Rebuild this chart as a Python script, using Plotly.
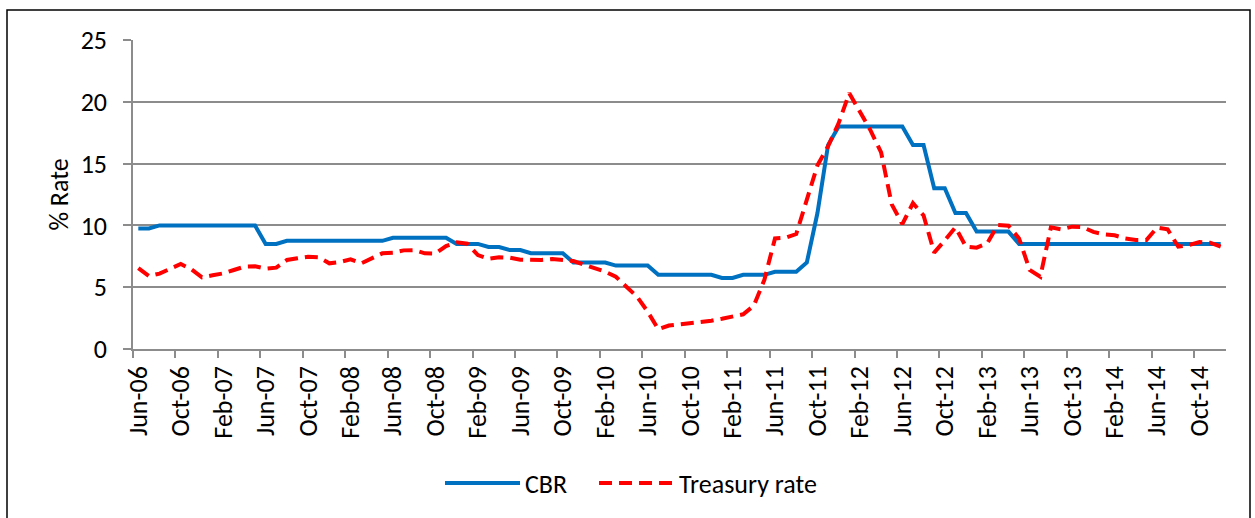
import plotly.graph_objects as go

month_names = ["Jan", "Feb", "Mar", "Apr", "May", "Jun", "Jul", "Aug", "Sep", "Oct", "Nov", "Dec"]
start_year, start_month = 2006, 6
n_months = 103
months = []
for k in range(n_months):
    m = (start_month - 1 + k) % 12
    y = start_year + (start_month - 1 + k) // 12
    months.append(f"{month_names[m]}-{y % 100:02d}")

cbr = [
    9.75, 9.75, 10, 10, 10, 10, 10, 10, 10, 10,
    10, 10, 8.5, 8.5, 8.75, 8.75, 8.75, 8.75, 8.75, 8.75,
    8.75, 8.75, 8.75, 8.75, 9.0, 9.0, 9.0, 9.0, 9.0, 9.0,
    8.5, 8.5, 8.5, 8.25, 8.25, 8.0, 8.0, 7.75, 7.75, 7.75,
    7.75, 7.0, 7.0, 7.0, 7.0, 6.75, 6.75, 6.75, 6.75, 6.0,
    6.0, 6.0, 6.0, 6.0, 6.0, 5.75, 5.75, 6.0, 6.0, 6.0,
    6.25, 6.25, 6.25, 7.0, 11.0, 16.5, 18, 18, 18, 18,
    18, 18, 18, 16.5, 16.5, 13, 13, 11, 11, 9.5,
    9.5, 9.5, 9.5, 8.5, 8.5, 8.5, 8.5, 8.5, 8.5, 8.5,
    8.5, 8.5, 8.5, 8.5, 8.5, 8.5, 8.5, 8.5, 8.5, 8.5,
    8.5, 8.5, 8.5,
]

treasury = [
    6.55, 5.9, 6.1, 6.47, 6.88, 6.45, 5.8, 5.96, 6.12, 6.39,
    6.66, 6.69, 6.5, 6.58, 7.2, 7.34, 7.47, 7.42, 6.93, 7.04,
    7.25, 6.93, 7.34, 7.74, 7.79, 7.98, 8.0, 7.74, 7.72, 8.33,
    8.63, 8.52, 7.6, 7.3, 7.42, 7.39, 7.23, 7.2, 7.2, 7.28,
    7.23, 7.12, 6.82, 6.58, 6.26, 5.85, 5.04, 4.23, 3.02, 1.6,
    1.9, 1.98, 2.08, 2.18, 2.29, 2.45, 2.62, 2.81, 3.5, 5.6,
    8.95, 9.0, 9.3, 12.1, 14.86, 16.4, 18.28, 20.69, 19.2, 17.69,
    15.9, 11.7, 10.1, 11.8, 10.8, 7.8, 8.79, 9.84, 8.28, 8.2,
    8.55, 10.03, 9.98, 8.95, 6.39, 5.85, 9.84, 9.68, 9.9, 9.85,
    9.47, 9.28, 9.2, 8.95, 8.82, 8.82, 9.82, 9.68, 8.28, 8.41,
    8.66, 8.6, 8.28,
]

FONT = "Carlito, Calibri, Lato, sans-serif"
FS = 26
GRID = "#8C8C8C"

fig = go.Figure()
fig.add_trace(go.Scatter(
    x=months, y=cbr, mode="lines", name="CBR",
    line=dict(color="#0070C0", width=4), legend="legend",
))
fig.add_trace(go.Scatter(
    x=months, y=treasury, mode="lines", name="Treasury rate",
    line=dict(color="#FF0000", width=4, dash="13px,7px"), legend="legend2",
))

W, H = 1255, 518
L, R, T, B = 133, 29, 40, 169
pw, ph = W - L - R, H - T - B

legend_style = dict(
    orientation="h", xanchor="left", y=-0.434, yanchor="middle",
    font=dict(family=FONT, size=FS, color="black"),
    itemwidth=75, bgcolor="rgba(0,0,0,0)",
)

fig.update_layout(
    width=W, height=H,
    margin=dict(l=L, r=R, t=T, b=B),
    paper_bgcolor="white", plot_bgcolor="white",
    font=dict(family=FONT, size=FS, color="black"),
    showlegend=True,
    legend=dict(x=(440 - L) / pw, **legend_style),
    legend2=dict(x=(594 - L) / pw, **legend_style),
    shapes=[dict(
        type="rect", xref="paper", yref="paper",
        x0=(7 - L) / pw, x1=(1250 - L) / pw,
        y0=-0.7, y1=(H - B - 10) / ph,
        line=dict(color="black", width=1.5), layer="below",
    )],
)

fig.update_xaxes(
    type="category", categoryorder="array", categoryarray=months,
    range=[-0.5, n_months - 0.5],
    tickmode="linear", tick0=0, dtick=4,
    tickson="boundaries", ticks="outside", ticklen=7, tickwidth=1.5, tickcolor=GRID,
    tickangle=-90, showgrid=False, ticklabelstandoff=5,
    showline=True, linecolor=GRID, linewidth=1.5,
    tickfont=dict(family=FONT, size=FS, color="black"),
)
fig.update_yaxes(
    range=[0, 25], tickmode="linear", tick0=0, dtick=5,
    ticks="outside", ticklen=8, tickwidth=1.5, tickcolor=GRID,
    showgrid=True, gridcolor=GRID, gridwidth=1.5,
    showline=True, linecolor=GRID, linewidth=1.5,
    zeroline=False, ticklabelstandoff=11,
    tickfont=dict(family=FONT, size=FS, color="black"),
    title=dict(text="% Rate", font=dict(family=FONT, size=FS, color="black"), standoff=5),
)

fig.write_html(
    "out.html",
    config={"displayModeBar": False},
    post_script="document.body.style.margin='0';document.body.style.overflow='hidden';",
)
